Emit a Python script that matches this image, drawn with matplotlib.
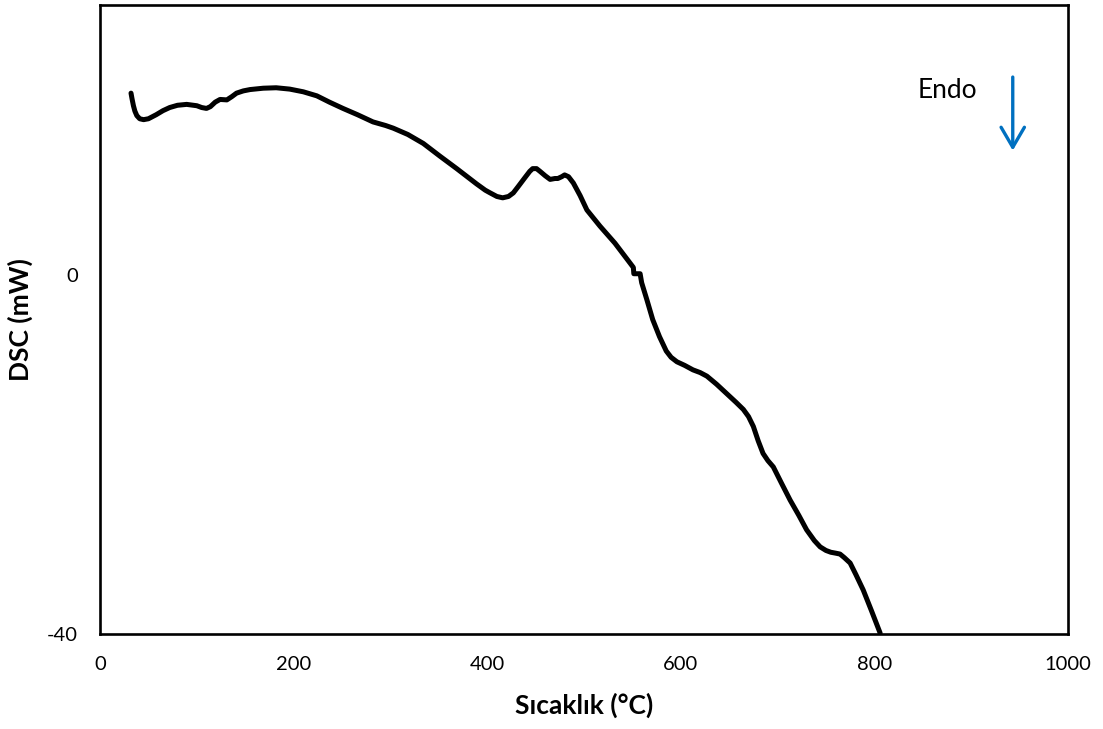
import numpy as np
import matplotlib.pyplot as plt

plt.rcParams['font.family'] = ['Lato', 'DejaVu Sans']
plt.rcParams['axes.unicode_minus'] = False

# DSC curve (temperature in °C, heat flow in mW)
temp = [32, 33, 34.5, 36, 38, 41, 45, 50, 58, 65, 72, 80, 89.5, 100, 105,
        110, 114, 119, 124, 131, 136, 141, 148, 155, 168.6, 182, 196, 210,
        224, 237, 251, 266, 282, 295, 303, 318, 334, 351, 368.5, 389, 398,
        403, 410, 416, 422, 427, 432, 439, 444, 447, 451, 454.5, 460, 465,
        470, 473, 477, 480, 484, 489, 496, 503, 516.5, 532, 547.5, 551,
        551.5, 558, 559.6, 565, 571, 578, 585, 590, 596, 604, 612.6, 620,
        627, 637, 647, 657, 664.6, 670, 675, 680, 685, 690, 695.6, 704, 713,
        722, 730, 738, 744, 750, 755, 760, 764.5, 769, 775, 781, 788.5, 797,
        806]
dsc = [20.2, 19.6, 18.8, 18.2, 17.7, 17.35, 17.25, 17.35, 17.8, 18.25,
       18.6, 18.85, 18.95, 18.8, 18.6, 18.5, 18.7, 19.2, 19.5, 19.45, 19.8,
       20.2, 20.45, 20.6, 20.75, 20.8, 20.65, 20.35, 19.9, 19.2, 18.5, 17.8,
       17.0, 16.6, 16.3, 15.6, 14.6, 13.2, 11.8, 10.1, 9.4, 9.1, 8.7, 8.55,
       8.7, 9.1, 9.8, 10.8, 11.5, 11.8, 11.8, 11.5, 11.0, 10.6, 10.7, 10.7,
       10.9, 11.1, 10.9, 10.2, 8.8, 7.2, 5.4, 3.5, 1.3, 0.8, 0.1, 0.1, -0.9,
       -2.8, -5.0, -6.9, -8.5, -9.2, -9.7, -10.1, -10.6, -10.9, -11.3,
       -12.2, -13.2, -14.2, -15.0, -15.8, -16.9, -18.5, -19.9, -20.7, -21.4,
       -23.2, -25.1, -26.8, -28.4, -29.6, -30.3, -30.7, -30.9, -31.0, -31.1,
       -31.5, -32.1, -33.4, -35.1, -37.4, -39.9]

fig = plt.figure(figsize=(11.03, 7.29), dpi=100)
ax = fig.add_axes([0.0907, 0.1303, 0.8775, 0.8627])

ax.plot(temp, dsc, color='black', linewidth=3.6, solid_joinstyle='round',
        solid_capstyle='round')

ax.set_xlim(0, 1000)
ax.set_ylim(-40, 30)
ax.set_xticks([0, 200, 400, 600, 800, 1000])
ax.set_yticks([-40, 0])
ax.tick_params(length=0, labelsize=14.5)
ax.tick_params(axis='x', pad=16)
ax.tick_params(axis='y', pad=16)

for s in ax.spines.values():
    s.set_linewidth(1.9)

ax.set_xlabel('Sıcaklık (°C)', fontsize=19, fontweight='bold', labelpad=14)
ax.set_ylabel('DSC (mW)', fontsize=19, fontweight='bold', labelpad=10)

# endothermic direction marker
ax.annotate('', xy=(943, 13.5), xytext=(943, 22.3),
            arrowprops=dict(arrowstyle='->, head_width=0.42, head_length=0.72',
                            color='#0070C0', lw=2.4, mutation_scale=20))
ax.text(875, 20.5, 'Endo', fontsize=19, ha='center', va='center')

fig.savefig('out.png', dpi=100)
